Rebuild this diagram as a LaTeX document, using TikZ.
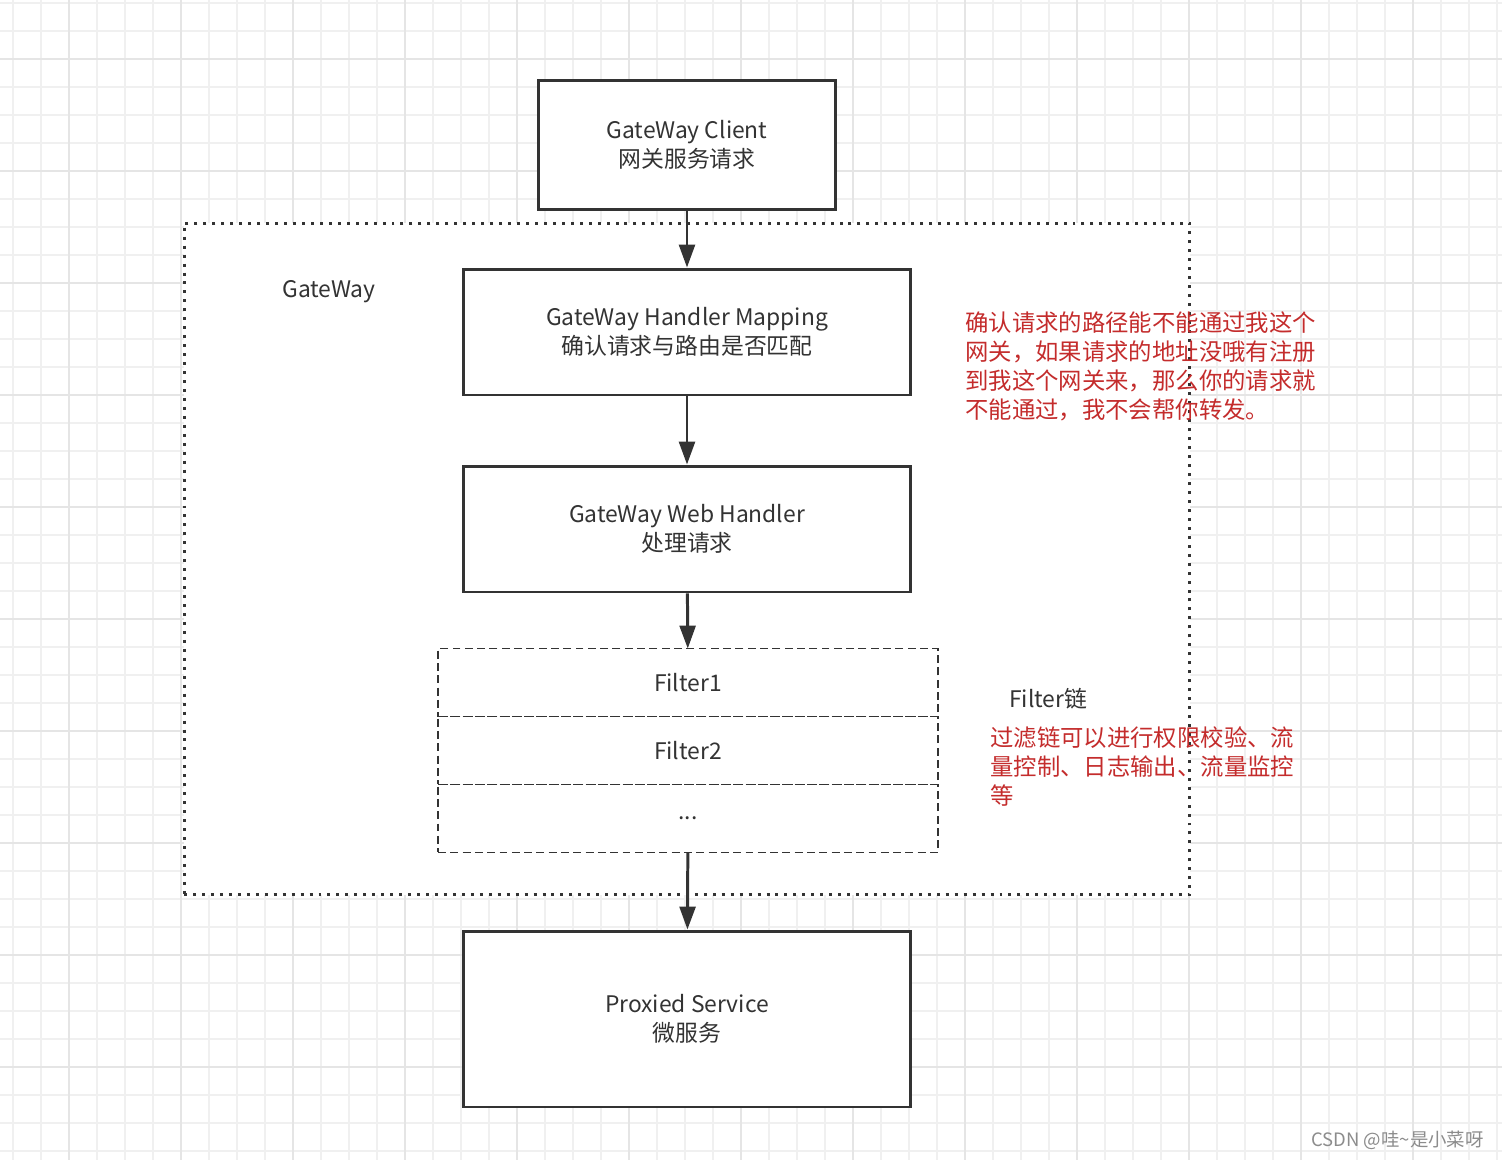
\documentclass[tikz,border=0pt]{standalone}
\usepackage{fontspec}
\setmainfont{Noto Sans CJK SC}
\usetikzlibrary{arrows.meta, positioning}

\definecolor{linegray}{RGB}{51,51,51}
\definecolor{notered}{RGB}{196,44,44}
\definecolor{gridminor}{RGB}{240,240,240}
\definecolor{gridmajor}{RGB}{229,229,229}
\definecolor{markgray}{RGB}{140,140,140}

\begin{document}
\begin{tikzpicture}[x=0.02cm, y=-0.02cm,
    font=\fontsize{13}{16.4}\selectfont, text=linegray,
    gridthin/.style={gridminor, line width=0.6pt},
    gridthick/.style={gridmajor, line width=1.1pt},
    box/.style={draw=linegray, line width=1.7pt, fill=white, align=center},
    filterbox/.style={draw=linegray, line width=0.9pt, dash pattern=on 4.5pt off 2.5pt, outer sep=0pt, minimum width=10cm, minimum height=1.36cm},
    gatewaybox/.style={draw=linegray, line width=1.7pt, dash pattern=on 1.7pt off 3.4pt, fill=white, minimum width=20.12cm, minimum height=13.44cm},
    note/.style={text=notered, align=left, inner sep=0pt, anchor=north west, font=\fontsize{13.3}{16.5}\selectfont},
    arrow/.style={-{Triangle[width=9pt, length=13pt]}, draw=linegray, line width=1.7pt}
]
    \useasboundingbox (0,0) rectangle (1502,1160);
    \fill[white] (0,0) rectangle (1502,1160);
    \foreach \x in {13,41,...,1502} \draw[gridthin] (\x,0) -- (\x,1160);
    \foreach \y in {3,31,...,1160} \draw[gridthin] (0,\y) -- (1502,\y);
    \foreach \x in {69,181,...,1502} \draw[gridthick] (\x,0) -- (\x,1160);
    \foreach \y in {59,171,...,1160} \draw[gridthick] (0,\y) -- (1502,\y);

    \node[gatewaybox] (gateway) at (687,559) {};
    \node (gwlabel) at (329,292) {GateWay};

    \node[box, minimum width=5.96cm, minimum height=2.6cm] (client) at (687,145) {GateWay Client\\网关服务请求};
    \node[box, minimum width=8.96cm, minimum height=2.52cm] (mapping) at (687,332) {GateWay Handler Mapping\\确认请求与路由是否匹配};
    \node[box, minimum width=8.96cm, minimum height=2.52cm] (webhandler) at (687,529) {GateWay Web Handler\\处理请求};

    \node[filterbox] (filter1) at (688,682.5) {Filter1};
    \node[filterbox, below=0pt of filter1] (filter2) {Filter2};
    \node[filterbox, below=0pt of filter2, text depth=-3pt] (filter3) {...};

    \node[box, minimum width=8.96cm, minimum height=3.52cm] (proxied) at (687,1019) {Proxied Service\\微服务};

    \draw[arrow] (client) -- (mapping);
    \draw[arrow] (mapping) -- (webhandler);
    \draw[arrow] (webhandler) -- (filter1);
    \draw[arrow] (filter3) -- (proxied);

    \node[note] (mapnote) at (965,311) {确认请求的路径能不能通过我这个\\网关，如果请求的地址没哦有注册\\到我这个网关来，那么你的请求就\\不能通过，我不会帮你转发。};
    \node[anchor=west] (chainlabel) at (1003,699) {Filter链};
    \node[note] (chainnote) at (990,726) {过滤链可以进行权限校验、流\\量控制、日志输出、流量监控\\等};

    \node[anchor=east, text=markgray, font=\fontsize{10.5}{12}\selectfont] (mark) at (1490,1140) {CSDN @哇\textasciitilde 是小菜呀};
\end{tikzpicture}
\end{document}
